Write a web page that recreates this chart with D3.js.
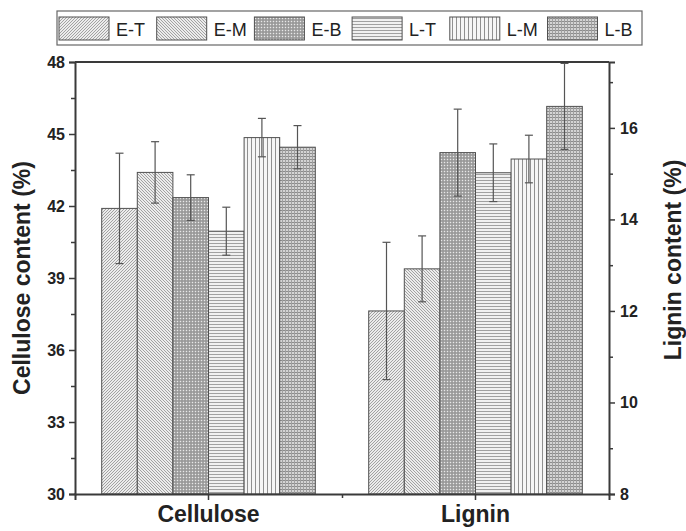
<!DOCTYPE html>
<html><head><meta charset="utf-8">
<script src="https://cdn.jsdelivr.net/npm/d3@7"></script>
<style>body{margin:0;background:#fff}svg{display:block}</style>
</head><body>
<svg id="chart" width="686" height="531"></svg>
<script>
const categories = ["Cellulose", "Lignin"];
const seriesNames = ["E-T", "E-M", "E-B", "L-T", "L-M", "L-B"];
const celluloseMean = [41.9, 43.4, 42.35, 40.95, 44.85, 44.45];
const celluloseErr = [2.3, 1.28, 0.95, 1.0, 0.8, 0.9];
const ligninMean = [12.0, 12.92, 15.46, 15.02, 15.32, 16.47];
const ligninErr = [1.5, 0.72, 0.95, 0.63, 0.52, 0.94];
const leftTicks = [30, 33, 36, 39, 42, 45, 48];
const rightTicks = [8, 10, 12, 14, 16];

const svg = d3.select("#chart");
const L = 75, R = 609, T = 62, B = 494;
const axisColor = "#3a3a3a";
const FONT = "Liberation Sans, Arial, sans-serif";

const x = d3.scaleBand().domain(categories).range([L, R]).padding(0);
const xs = d3.scaleBand().domain(seriesNames).range([x.bandwidth()*0.1, x.bandwidth()*0.9]);
const yL = d3.scaleLinear().domain([30, 48]).range([B, T]);
const yR = d3.scaleLinear().domain([8, 17.44]).range([B, T]);

// patterns
const defs = svg.append("defs");
function pat(id, w, h, bg, draw) {
  const p = defs.append("pattern").attr("id", id).attr("patternUnits", "userSpaceOnUse")
    .attr("width", w).attr("height", h);
  p.append("rect").attr("width", w).attr("height", h).attr("fill", bg);
  draw(p);
}
pat("p0", 3, 3, "#ececec", p => {
  p.append("path").attr("d", "M-1,4 L4,-1 M-1,1 L1,-1 M2,4 L4,2").attr("stroke", "#9a9a9a").attr("stroke-width", 0.9);
});
pat("p1", 3, 3, "#ececec", p => {
  p.append("path").attr("d", "M-1,-1 L4,4 M2,-1 L4,1 M-1,2 L1,4").attr("stroke", "#9a9a9a").attr("stroke-width", 0.9);
});
pat("p2", 3, 3, "#a8a8a8", p => {
  p.append("rect").attr("x", 0).attr("y", 0).attr("width", 1).attr("height", 1).attr("fill", "#e8e8e8");
  p.append("rect").attr("x", 1.5).attr("y", 1.5).attr("width", 1).attr("height", 1).attr("fill", "#707070");
});
pat("p3", 4, 3, "#f0f0f0", p => {
  p.append("rect").attr("x", 0).attr("y", 0).attr("width", 4).attr("height", 1).attr("fill", "#a0a0a0");
});
pat("p4", 4, 4, "#f6f6f6", p => {
  p.append("rect").attr("x", 0).attr("y", 0).attr("width", 1).attr("height", 4).attr("fill", "#909090");
});
pat("p5", 3, 3, "#d4d4d4", p => {
  p.append("rect").attr("x", 0).attr("y", 0).attr("width", 3).attr("height", 1).attr("fill", "#8c8c8c");
  p.append("rect").attr("x", 0).attr("y", 0).attr("width", 1).attr("height", 3).attr("fill", "#a0a0a0");
});

const groups = [
  {cat: "Cellulose", mean: celluloseMean, err: celluloseErr, y: yL},
  {cat: "Lignin", mean: ligninMean, err: ligninErr, y: yR}
];

groups.forEach(g => {
  const gg = svg.append("g").attr("transform", `translate(${x(g.cat)},0)`);
  seriesNames.forEach((s, i) => {
    gg.append("rect")
      .attr("x", xs(s)).attr("y", g.y(g.mean[i]))
      .attr("width", xs.bandwidth()).attr("height", B - g.y(g.mean[i]))
      .attr("fill", `url(#p${i})`).attr("stroke", "#505050").attr("stroke-width", 1);
  });
  seriesNames.forEach((s, i) => {
    const cx = xs(s) + xs.bandwidth()/2;
    const y1 = g.y(g.mean[i] + g.err[i]), y2 = g.y(g.mean[i] - g.err[i]);
    gg.append("line").attr("x1", cx).attr("x2", cx).attr("y1", y1).attr("y2", y2)
      .attr("stroke", "#555").attr("stroke-width", 1.2);
    [y1, y2].forEach(yy => gg.append("line").attr("x1", cx-4).attr("x2", cx+4).attr("y1", yy).attr("y2", yy)
      .attr("stroke", "#555").attr("stroke-width", 1.2));
  });
});

// frame
svg.append("line").attr("x1", L).attr("x2", R).attr("y1", T).attr("y2", T).attr("stroke", axisColor).attr("stroke-width", 2);

// left axis
const leftAxis = svg.append("g").attr("transform", `translate(${L},0)`)
  .call(d3.axisLeft(yL).tickValues(leftTicks).tickFormat(d3.format("d")).tickSize(6).tickPadding(4));
svg.append("g").attr("transform", `translate(${L},0)`)
  .call(d3.axisLeft(yL).tickValues(d3.range(31.5, 48, 3)).tickFormat("").tickSize(4))
  .call(g => g.select(".domain").remove());
// right axis
const rightAxis = svg.append("g").attr("transform", `translate(${R},0)`)
  .call(d3.axisRight(yR).tickValues(rightTicks).tickFormat(d3.format("d")).tickSize(6).tickPadding(5));
svg.append("g").attr("transform", `translate(${R},0)`)
  .call(d3.axisRight(yR).tickValues([9, 11, 13, 15, 17]).tickFormat("").tickSize(4))
  .call(g => g.select(".domain").remove());
// bottom axis
const bottomAxis = svg.append("g").attr("transform", `translate(0,${B})`)
  .call(d3.axisBottom(x).tickSize(6).tickPadding(6));
svg.append("g").attr("transform", `translate(0,${B})`)
  .call(d3.axisBottom(d3.scaleLinear().domain([0, 1]).range([L, R])).tickValues([0.5]).tickFormat("").tickSize(4))
  .call(g => g.select(".domain").remove());

svg.selectAll(".domain").attr("stroke", axisColor).attr("stroke-width", 2);
svg.selectAll(".tick line").attr("stroke", axisColor).attr("stroke-width", 1.5);
[leftAxis, rightAxis].forEach(a => a.selectAll(".tick text")
  .attr("font-family", FONT).attr("font-weight", "bold")
  .attr("font-size", 16).attr("fill", "#222"));
bottomAxis.selectAll(".tick text")
  .attr("font-family", FONT).attr("font-weight", "bold")
  .attr("font-size", 23).attr("fill", "#222");

// axis titles
svg.append("text").attr("transform", `translate(30,${(T+B)/2}) rotate(-90)`)
  .attr("text-anchor", "middle").attr("font-family", FONT)
  .attr("font-weight", "bold").attr("font-size", 23).attr("fill", "#222").text("Cellulose content (%)");
svg.append("text").attr("transform", `translate(681,${(T+B)/2 - 18}) rotate(-90)`)
  .attr("text-anchor", "middle").attr("font-family", FONT)
  .attr("font-weight", "bold").attr("font-size", 23).attr("fill", "#222").text("Lignin content (%)");

// legend
const lg = svg.append("g");
lg.append("rect").attr("x", 57).attr("y", 11).attr("width", 585).attr("height", 34)
  .attr("fill", "#fff").attr("stroke", "#666").attr("stroke-width", 1.2);
const lx = d3.scalePoint().domain(seriesNames).range([59, 547.5]);
seriesNames.forEach((s, i) => {
  lg.append("rect").attr("x", lx(s)).attr("y", 17).attr("width", 50).attr("height", 23)
    .attr("fill", `url(#p${i})`).attr("stroke", "#505050").attr("stroke-width", 1);
  lg.append("text").attr("x", lx(s) + 57).attr("y", 35.5)
    .attr("font-family", FONT).attr("font-size", 18).attr("fill", "#222").text(s);
});
</script>
</body></html>
